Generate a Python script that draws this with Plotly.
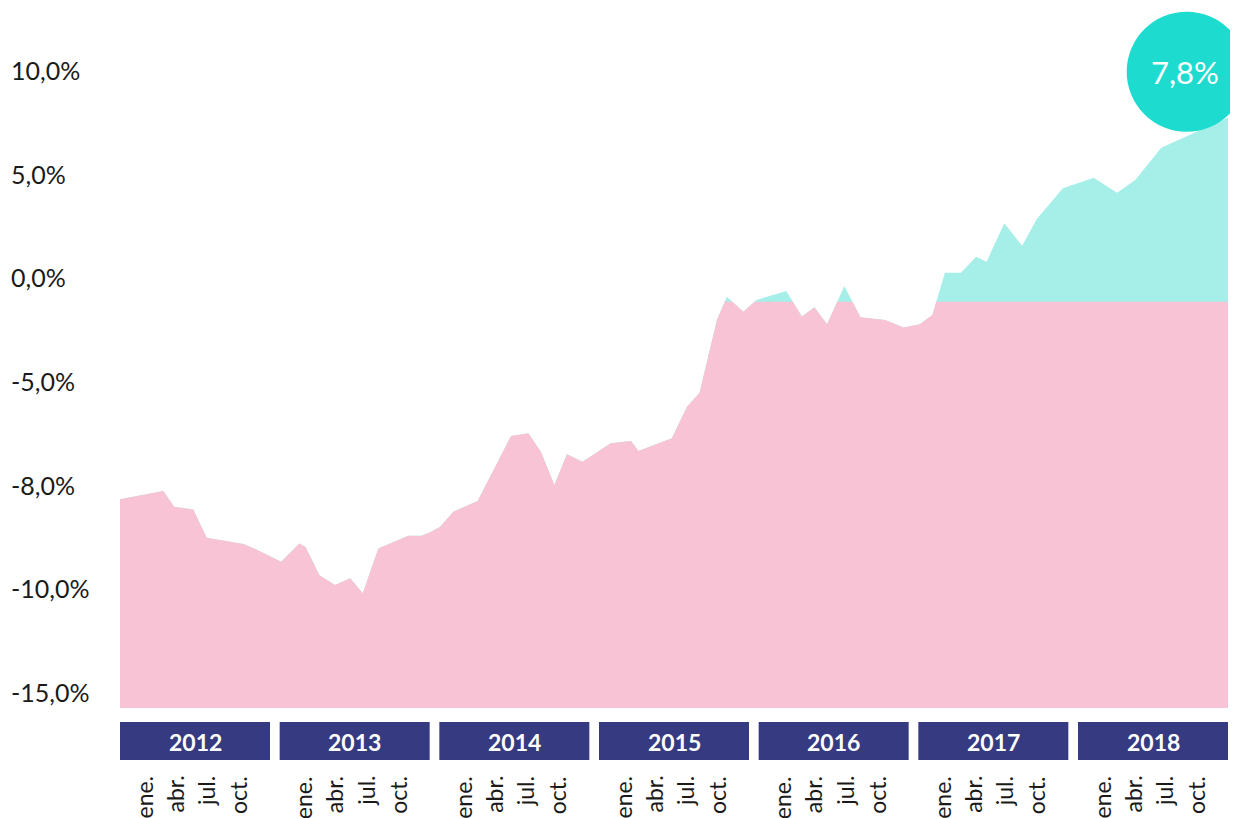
import pandas as pd
import plotly.graph_objects as go

# ---------------- data ----------------
dates = [
    "2012-01-01", "2012-04-10", "2012-05-05", "2012-06-18", "2012-07-19", "2012-10-12",
    "2012-11-08", "2013-01-07", "2013-02-18", "2013-03-04", "2013-04-05", "2013-05-11",
    "2013-06-15", "2013-07-14", "2013-08-19", "2013-10-27", "2013-11-27", "2013-12-16",
    "2014-01-08", "2014-02-08", "2014-04-05", "2014-06-21", "2014-07-31", "2014-08-29",
    "2014-09-29", "2014-10-28", "2014-12-03", "2015-02-06", "2015-03-25", "2015-04-11",
    "2015-06-27", "2015-08-01", "2015-08-30", "2015-10-09", "2015-11-01", "2015-12-09",
    "2016-01-08", "2016-03-17", "2016-04-22", "2016-05-21", "2016-06-19", "2016-07-29",
    "2016-09-04", "2016-10-31", "2016-12-13", "2017-01-19", "2017-02-17", "2017-03-18",
    "2017-04-24", "2017-05-29", "2017-06-22", "2017-08-02", "2017-09-12", "2017-10-16",
    "2017-12-15", "2018-02-24", "2018-04-19", "2018-05-31", "2018-07-30", "2018-09-16",
    "2018-12-31",
]
values = [
    -10.61, -10.21, -10.97, -11.10, -12.47, -12.77,
    -13.01, -13.62, -12.75, -12.91, -14.28, -14.75,
    -14.42, -15.15, -12.98, -12.37, -12.37, -12.20,
    -11.95, -11.21, -10.69, -7.56, -7.43, -8.32,
    -9.92, -8.44, -8.80, -7.91, -7.80, -8.28,
    -7.67, -6.15, -5.47, -1.96, -0.84, -1.56,
    -1.00, -0.56, -1.80, -1.35, -2.17, -0.32,
    -1.83, -1.96, -2.33, -2.17, -1.72, 0.32,
    0.32, 1.09, 0.85, 2.70, 1.62, 2.91,
    4.39, 4.90, 4.18, 4.79, 6.35, 6.80,
    7.80,
]
cap_value = -1.08

years = ["2012", "2013", "2014", "2015", "2016", "2017", "2018"]
month_labels = ["ene.", "abr.", "jul.", "oct."]
ytick_vals = [10, 5, 0, -5, -10, -15, -20]
ytick_text = ["10,0%", "5,0%", "0,0%", "-5,0%", "-8,0%", "-10,0%", "-15,0%"]

# ---------------- layout constants ----------------
OFF = 8                      # default page body margin
W, H = 1238 - OFF, 818 - OFF
ML, MR, MT, MB = 112, 10, 0, 110
PW, PH = W - ML - MR, H - MT - MB
Y_MIN = -20.68
Y_MAX = Y_MIN + PH / 20.73

PINK = "#f8c3d5"
TEAL_LIGHT = "#a6efe8"
TEAL = "#1ddccf"
NAVY = "#363a80"
TEXT = "#1a1a1a"
FONT = "Lato"


def px_x(px):
    """page pixel x -> paper x"""
    return (px - OFF - ML) / PW


def px_y(py):
    """page pixel y -> paper y"""
    return (MT + PH - (py - OFF)) / PH


# clipped (pink) series: min(value, cap), with crossing points
t = pd.to_datetime(dates)
tn = t.asi8
clip_x, clip_y = [], []
for i, v in enumerate(values):
    if i > 0:
        v0 = values[i - 1]
        if (v0 - cap_value) * (v - cap_value) < 0:
            f = (cap_value - v0) / (v - v0)
            tc = tn[i - 1] + f * (tn[i] - tn[i - 1])
            clip_x.append(pd.Timestamp(int(tc)))
            clip_y.append(cap_value)
    clip_x.append(t[i])
    clip_y.append(min(v, cap_value))

fig = go.Figure()

# full series (teal)
fig.add_trace(go.Scatter(
    x=list(t) + [t[-1], t[0]],
    y=values + [Y_MIN, Y_MIN],
    mode="lines", fill="toself", fillcolor=TEAL_LIGHT,
    line=dict(width=0), hoverinfo="skip", showlegend=False,
))
# capped series (pink)
fig.add_trace(go.Scatter(
    x=clip_x + [t[-1], t[0]],
    y=clip_y + [Y_MIN, Y_MIN],
    mode="lines", fill="toself", fillcolor=PINK,
    line=dict(width=0), hoverinfo="skip", showlegend=False,
))

shapes = []
annotations = []

# y labels (left aligned)
for v, s in zip(ytick_vals, ytick_text):
    annotations.append(dict(
        x=px_x(9), xref="paper", y=v, yref="y", yshift=2, text=s, showarrow=False,
        xanchor="left", yanchor="middle",
        font=dict(family=FONT, size=25, color=TEXT),
    ))

# year boxes & month labels
box_w = 150
pitch = (PW - box_w) / (len(years) - 1)
month_off = [23, 54, 86, 118]
for i, yr in enumerate(years):
    x0 = 120 + i * pitch
    shapes.append(dict(
        type="rect", xref="paper", yref="paper",
        x0=px_x(x0), x1=px_x(x0 + box_w), y0=px_y(760), y1=px_y(722),
        fillcolor=NAVY, line=dict(width=0), layer="above",
    ))
    annotations.append(dict(
        x=px_x(x0 + box_w / 2), xref="paper", y=px_y(742), yref="paper",
        text="<b>%s</b>" % yr, showarrow=False, xanchor="center", yanchor="middle",
        font=dict(family=FONT, size=23, color="white"),
    ))
    for m, off in zip(month_labels, month_off):
        annotations.append(dict(
            x=px_x(x0 + off), xref="paper", y=px_y(774), yref="paper",
            text=m, textangle=-90, showarrow=False, xanchor="center", yanchor="top",
            font=dict(family=FONT, size=23, color=TEXT),
        ))

# highlight circle on the last value
last_val = values[-1]
shapes.append(dict(
    type="circle", xref="paper", yref="y",
    xsizemode="pixel", ysizemode="pixel",
    xanchor=1, yanchor=last_val,
    x0=-101.3, x1=18.7, y0=-14.1, y1=105.9,
    fillcolor=TEAL, line=dict(width=0), layer="above",
))
annotations.append(dict(
    x=1, xref="paper", y=last_val, yref="y", xshift=-43, yshift=46,
    text=("%.1f" % last_val).replace(".", ",") + "%", showarrow=False,
    xanchor="center", yanchor="middle",
    font=dict(family=FONT, size=31, color="white"),
))

fig.update_layout(
    width=W, height=H,
    margin=dict(l=ML, r=MR, t=MT, b=MB, autoexpand=False),
    paper_bgcolor="white", plot_bgcolor="white",
    shapes=shapes, annotations=annotations,
    xaxis=dict(type="date", range=[dates[0], dates[-1]], visible=False, showgrid=False),
    yaxis=dict(range=[Y_MIN, Y_MAX], tickvals=ytick_vals, showticklabels=False,
               showgrid=False, zeroline=False, ticks=""),
    showlegend=False,
)

fig.write_html("out.html")
